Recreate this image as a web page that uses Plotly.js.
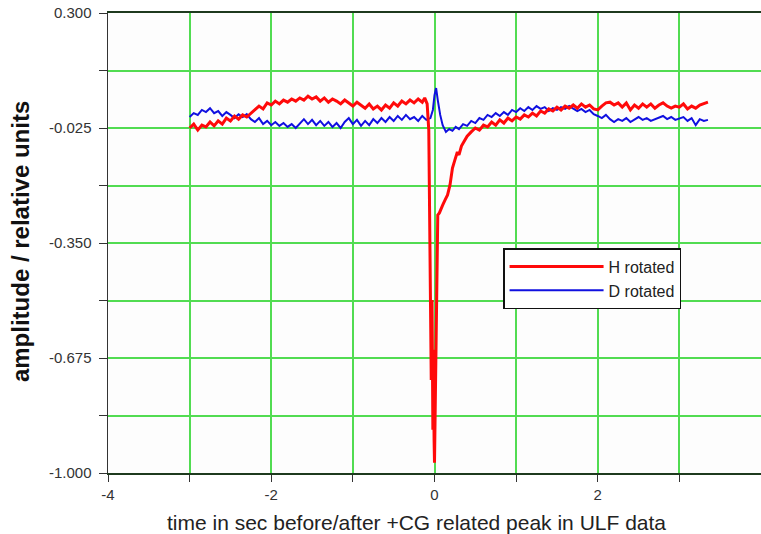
<!DOCTYPE html>
<html>
<head>
<meta charset="utf-8">
<script src="https://cdn.plot.ly/plotly-3.0.1.min.js"></script>
<style>html,body{margin:0;padding:0;background:#fff;}#chart{width:761px;height:534px;}</style>
</head>
<body>
<div id="chart"></div>
<script>
// ---- data ----
var hTime = [-3.00,-2.95,-2.90,-2.85,-2.80,-2.75,-2.70,-2.65,-2.60,-2.55,-2.50,-2.45,-2.40,-2.35,-2.30,-2.25,-2.20,-2.15,-2.10,-2.05,
  -2.00,-1.95,-1.90,-1.85,-1.80,-1.75,-1.70,-1.65,-1.60,-1.55,-1.50,-1.45,-1.40,-1.35,-1.30,-1.25,-1.20,-1.15,-1.10,-1.05,
  -1.00,-0.95,-0.90,-0.85,-0.80,-0.75,-0.70,-0.65,-0.60,-0.55,-0.50,-0.45,-0.40,-0.35,-0.30,-0.25,-0.20,-0.15,-0.12,-0.09,
  -0.07,-0.06,-0.05,-0.04,-0.035,-0.03,-0.02,-0.015,-0.01,-0.005,0.00,0.01,0.02,0.03,0.04,0.06,0.08,0.10,0.13,0.16,
  0.19,0.22,0.25,0.28,0.30,0.33,0.36,0.40,0.45,0.50,0.55,0.60,0.65,0.70,0.75,0.80,0.85,0.90,0.95,1.00,
  1.05,1.10,1.15,1.20,1.25,1.30,1.35,1.40,1.45,1.50,1.55,1.60,1.65,1.70,1.75,1.80,1.85,1.90,1.95,2.00,
  2.05,2.10,2.15,2.20,2.25,2.30,2.35,2.40,2.45,2.50,2.55,2.60,2.65,2.70,2.75,2.80,2.85,2.90,2.95,3.00,
  3.05,3.10,3.15,3.20,3.25,3.30,3.35];
var hRotated = [-0.025,-0.014,-0.031,-0.017,-0.022,-0.008,-0.019,-0.005,-0.014,0.003,-0.005,0.009,0.000,0.012,0.006,0.017,0.026,0.037,0.029,0.046,
  0.040,0.051,0.043,0.054,0.048,0.057,0.051,0.060,0.054,0.065,0.057,0.063,0.051,0.060,0.048,0.057,0.051,0.043,0.054,0.046,
  0.037,0.048,0.040,0.031,0.043,0.029,0.037,0.026,0.040,0.031,0.046,0.037,0.051,0.043,0.054,0.046,0.057,0.048,0.060,0.043,
  -0.031,-0.228,-0.398,-0.737,-0.539,-0.511,-0.878,-0.652,-0.765,-0.907,-0.971,-0.794,-0.596,-0.455,-0.271,-0.265,-0.251,-0.243,-0.228,-0.214,
  -0.186,-0.138,-0.115,-0.093,-0.101,-0.076,-0.064,-0.048,-0.036,-0.025,-0.031,-0.017,-0.022,-0.008,-0.017,-0.002,-0.011,0.003,-0.005,0.006,
  0.000,0.012,0.006,0.017,0.009,0.023,0.017,0.029,0.023,0.034,0.026,0.037,0.031,0.040,0.031,0.043,0.034,0.040,0.029,0.026,
  0.037,0.046,0.048,0.040,0.046,0.034,0.046,0.026,0.040,0.031,0.043,0.034,0.043,0.031,0.040,0.046,0.037,0.031,0.037,0.034,
  0.043,0.029,0.037,0.031,0.040,0.043,0.048];

var dTime = [-3.00,-2.95,-2.90,-2.85,-2.80,-2.75,-2.70,-2.65,-2.60,-2.55,-2.50,-2.45,-2.40,-2.35,-2.30,-2.25,-2.20,-2.15,-2.10,-2.05,
  -2.00,-1.95,-1.90,-1.85,-1.80,-1.75,-1.70,-1.65,-1.60,-1.55,-1.50,-1.45,-1.40,-1.35,-1.30,-1.25,-1.20,-1.15,-1.10,-1.05,
  -1.00,-0.95,-0.90,-0.85,-0.80,-0.75,-0.70,-0.65,-0.60,-0.55,-0.50,-0.45,-0.40,-0.35,-0.30,-0.25,-0.20,-0.15,-0.10,-0.05,
  -0.02,0.00,0.02,0.04,0.07,0.10,0.14,0.18,0.22,0.26,0.30,0.35,0.40,0.45,0.50,0.55,0.60,0.65,0.70,0.75,
  0.80,0.85,0.90,0.95,1.00,1.05,1.10,1.15,1.20,1.25,1.30,1.35,1.40,1.45,1.50,1.55,1.60,1.65,1.70,1.75,
  1.80,1.85,1.90,1.95,2.00,2.05,2.10,2.15,2.20,2.25,2.30,2.35,2.40,2.45,2.50,2.55,2.60,2.65,2.70,2.75,
  2.80,2.85,2.90,2.95,3.00,3.05,3.10,3.15,3.20,3.25,3.30,3.35];
var dRotated = [0.006,0.017,0.012,0.026,0.020,0.031,0.017,0.023,0.009,0.020,0.012,0.003,0.014,0.006,0.014,0.000,-0.008,0.003,-0.014,-0.005,
  -0.017,-0.008,-0.019,-0.011,-0.022,-0.014,-0.025,-0.011,0.000,-0.014,-0.002,-0.017,-0.005,-0.019,-0.008,-0.022,-0.011,-0.025,-0.008,0.003,
  -0.014,-0.002,-0.019,-0.005,-0.017,0.000,-0.011,0.003,-0.008,0.006,-0.005,0.009,-0.002,0.012,0.000,0.006,-0.005,0.009,-0.002,0.003,
  0.026,0.068,0.088,0.054,0.012,-0.017,-0.036,-0.028,-0.033,-0.022,-0.028,-0.014,-0.019,-0.005,-0.011,0.003,-0.002,0.012,0.006,0.017,
  0.009,0.020,0.012,0.026,0.020,0.031,0.023,0.034,0.026,0.037,0.029,0.034,0.023,0.031,0.026,0.034,0.029,0.037,0.031,0.023,
  0.029,0.020,0.026,0.014,0.009,0.003,0.012,0.000,-0.008,0.000,-0.005,0.003,-0.008,0.000,0.006,-0.002,0.003,-0.005,0.000,0.006,
  0.009,0.000,0.006,-0.002,0.003,0.006,-0.005,0.003,-0.017,0.000,-0.005,-0.002];

var seriesNames = ["H rotated", "D rotated"];
var xTitle = "time in sec before/after +CG related peak in ULF data";
var yTitle = "amplitude / relative units";
// tick positions: every grid line; labels only on the labelled ones
var yTickVals = [-1.0, -0.8375, -0.675, -0.5125, -0.35, -0.1875, -0.025, 0.1375, 0.3];
var yTickText = ["-1.000", "", "-0.675", "", "-0.350", "", "-0.025", "", "0.300"];
var xTickVals = [-4, -3, -2, -1, 0, 1, 2, 3, 4];
var xTickText = ["-4", "", "-2", "", "0", "", "2", "", "4"];

var gridGreen = "#52dc52";
var traces = [
  {x: dTime, y: dRotated, name: seriesNames[1], type: "scatter", mode: "lines",
   line: {color: "#1010e0", width: 2}, legendrank: 2},
  {x: hTime, y: hRotated, name: seriesNames[0], type: "scatter", mode: "lines",
   line: {color: "#ff0a0a", width: 3}, legendrank: 1}
];

var layout = {
  width: 761, height: 534,
  margin: {l: 108, r: 0, t: 13, b: 61},
  paper_bgcolor: "#ffffff", plot_bgcolor: "#fdfdfd",
  font: {family: "Liberation Sans, Arial, sans-serif", color: "#333"},
  showlegend: true,
  legend: {x: 0.605, y: 0.489, xanchor: "left", yanchor: "top",
    bgcolor: "#ffffff", bordercolor: "#111", borderwidth: 1.5,
    font: {size: 16, color: "#222"}, itemwidth: 94, tracegroupgap: 0},
  xaxis: {
    range: [-4, 4], tickmode: "array", tickvals: xTickVals, ticktext: xTickText,
    ticks: "outside", ticklen: 7, tickwidth: 1, tickcolor: "#333",
    showgrid: true, gridcolor: gridGreen, gridwidth: 2,
    showline: true, linecolor: "#1e3a1e", linewidth: 2, mirror: true,
    zeroline: false, tickfont: {size: 15, color: "#333"},
    automargin: false
  },
  yaxis: {
    range: [-1.0, 0.3], tickmode: "array", tickvals: yTickVals, ticktext: yTickText,
    ticks: "outside", ticklen: 8, tickwidth: 1, tickcolor: "#333",
    showgrid: true, gridcolor: gridGreen, gridwidth: 2,
    showline: true, linecolor: "#333", linewidth: 1.5,
    zeroline: false, tickfont: {size: 15, color: "#333"}, ticklabelstandoff: 4,
    automargin: false
  },
  annotations: [
    {text: xTitle, xref: "paper", yref: "paper", x: 0.4717, y: -0.108,
     xanchor: "center", yanchor: "middle", showarrow: false,
     font: {size: 21, color: "#222"}},
    {text: "<b>" + yTitle + "</b>", xref: "paper", yref: "paper", x: -0.134, y: 0.503,
     xanchor: "center", yanchor: "middle", textangle: -90, showarrow: false,
     font: {size: 24, color: "#111"}}
  ]
};

Plotly.newPlot("chart", traces, layout, {displayModeBar: false, staticPlot: true});
</script>
</body>
</html>
